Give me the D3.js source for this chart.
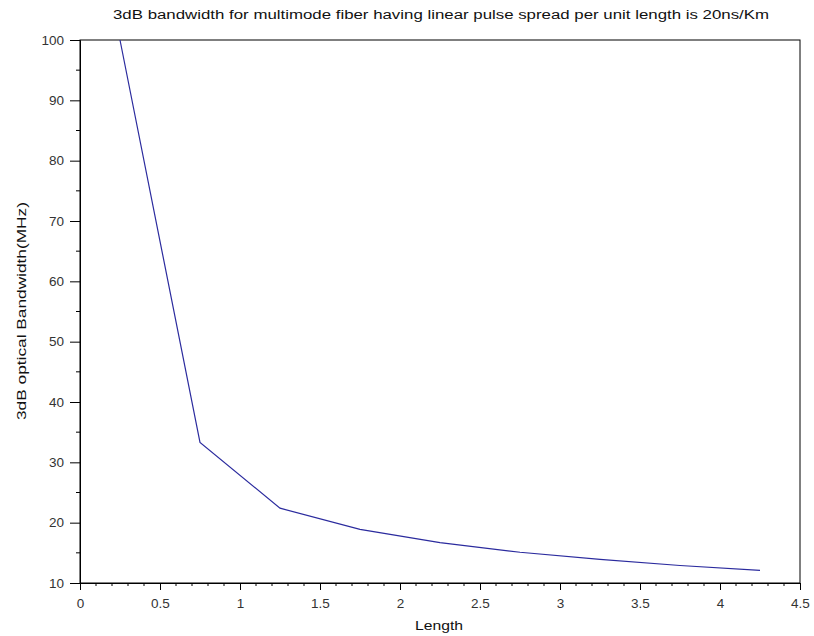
<!DOCTYPE html>
<html>
<head>
<meta charset="utf-8">
<script src="https://cdn.jsdelivr.net/npm/d3@7"></script>
<style>
  body { margin: 0; background: #fff; }
  svg { display: block; font-family: "Liberation Sans", Arial, sans-serif; }
</style>
</head>
<body>
<svg id="chart" width="814" height="636"></svg>
<script>
// fiber length (km) and 3dB bandwidth (MHz)
var lengths = [0.25, 0.75, 1.25, 1.75, 2.25, 2.75, 3.25, 3.75, 4.25];
var bandwidth = [100, 33.3, 22.4, 18.9, 16.7, 15.1, 13.9, 12.9, 12.1];

var xTicks = [0, 0.5, 1, 1.5, 2, 2.5, 3, 3.5, 4, 4.5];
var yTicks = [10, 20, 30, 40, 50, 60, 70, 80, 90, 100];

var titleText = '3dB bandwidth for multimode fiber having linear pulse spread per unit length is 20ns/Km';
var xLabel = 'Length';
var yLabel = '3dB optical Bandwidth(MHz)';

var margin = { left: 80, top: 40, right: 14, bottom: 53 };
var svg = d3.select('#chart');
var width = +svg.attr('width') - margin.left - margin.right;
var height = +svg.attr('height') - margin.top - margin.bottom;

var x = d3.scaleLinear().domain([0, 4.5]).range([0, width]);
var y = d3.scaleLinear().domain([10, 100]).range([height, 0]);

var g = svg.append('g').attr('transform', 'translate(' + margin.left + ',' + margin.top + ')');

// frame
g.append('rect')
  .attr('width', width).attr('height', height)
  .attr('fill', 'none').attr('stroke', '#000').attr('stroke-width', 1);

// minor ticks
var xMinor = d3.range(0, 4.5001, 0.1).filter(function (v) { return Math.abs(v * 2 - Math.round(v * 2)) > 1e-6; });
var yMinor = d3.range(15, 100, 10);

g.selectAll('.xminor').data(xMinor).enter().append('line')
  .attr('x1', function (d) { return x(d); }).attr('x2', function (d) { return x(d); })
  .attr('y1', height).attr('y2', height + 3)
  .attr('stroke', '#000');

g.selectAll('.yminor').data(yMinor).enter().append('line')
  .attr('y1', function (d) { return y(d); }).attr('y2', function (d) { return y(d); })
  .attr('x1', 0).attr('x2', -4)
  .attr('stroke', '#000');

var xAxis = g.append('g')
  .attr('transform', 'translate(0,' + height + ')')
  .call(d3.axisBottom(x).tickValues(xTicks).tickSize(7).tickPadding(8)
    .tickFormat(function (d) { return String(d); }));

var yAxis = g.append('g')
  .call(d3.axisLeft(y).tickValues(yTicks).tickSize(10).tickPadding(6)
    .tickFormat(function (d) { return String(d); }));

[xAxis, yAxis].forEach(function (ax) {
  ax.select('.domain').attr('stroke', '#000');
  ax.selectAll('.tick line').attr('stroke', '#000');
  ax.selectAll('.tick text')
    .attr('fill', '#333')
    .style('font-size', '13.5px')
    .style('font-family', '"Liberation Sans", Arial, sans-serif');
});

// data line
var line = d3.line()
  .x(function (d, i) { return x(lengths[i]); })
  .y(function (d) { return y(d); });

g.append('path')
  .datum(bandwidth)
  .attr('d', line)
  .attr('fill', 'none')
  .attr('stroke', '#2b2b9e')
  .attr('stroke-width', 1.2);

// title and labels
svg.append('text')
  .attr('x', 441).attr('y', 19)
  .attr('text-anchor', 'middle')
  .attr('textLength', 656)
  .attr('lengthAdjust', 'spacingAndGlyphs')
  .style('font-size', '12.5px')
  .attr('fill', '#111')
  .text(titleText);

svg.append('text')
  .attr('x', 439).attr('y', 630)
  .attr('text-anchor', 'middle')
  .attr('textLength', 48)
  .attr('lengthAdjust', 'spacingAndGlyphs')
  .style('font-size', '13px')
  .attr('fill', '#111')
  .text(xLabel);

svg.append('text')
  .attr('transform', 'translate(26,311) rotate(-90)')
  .attr('text-anchor', 'middle')
  .attr('textLength', 218)
  .attr('lengthAdjust', 'spacingAndGlyphs')
  .style('font-size', '13px')
  .attr('fill', '#111')
  .text(yLabel);
</script>
</body>
</html>
